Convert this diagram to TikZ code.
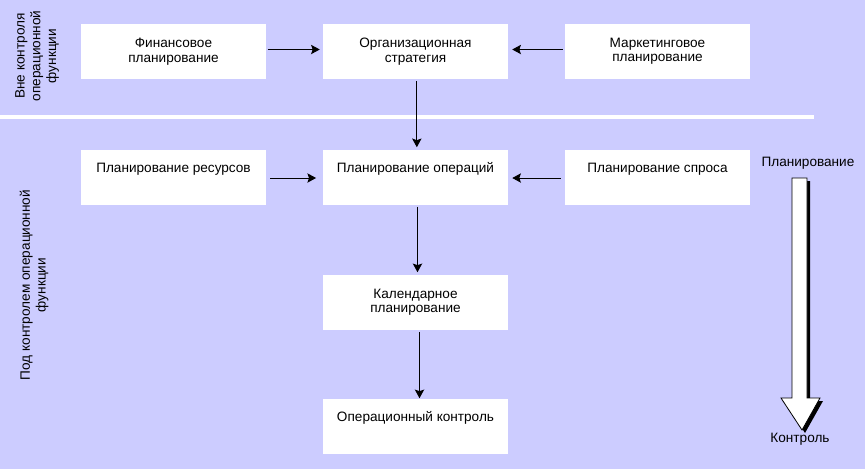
\documentclass[tikz,border=0pt]{standalone}
\usepackage{fontspec}
\setmainfont{Liberation Sans}
\usetikzlibrary{arrows.meta}
\definecolor{bg}{RGB}{204,204,255}
\begin{document}
\begin{tikzpicture}[x=0.75pt,y=-0.75pt,
  box/.style={fill=white, draw=none, minimum width=138.75pt, minimum height=41.25pt,
    inner sep=0pt, align=center, font=\fontsize{10.2}{10.8}\selectfont},
  lbl/.style={inner sep=0pt, align=center, font=\fontsize{10.2}{11.8}\selectfont},
  conn/.style={-{Stealth[length=6.5pt,width=7pt,inset=1.2pt]}, line width=0.75pt}]
\fill[bg] (0,0) rectangle (865,469);
\useasboundingbox (0,0) rectangle (865,469);
\draw[white, line width=3pt] (0,117) -- (814,117);

\node[box] (fin) at (173.5,51.5) {Финансовое\\планирование};
\node[box] (org) at (415.5,51.5) {Организационная\\стратегия};
\node[box] (mar) at (657.5,51.5) {Маркетинговое\\планирование};
\node[box] (res) at (173.5,177) {Планирование ресурсов\\\strut};
\node[box] (ops) at (415.5,177) {Планирование операций\\\strut};
\node[box] (dem) at (657.5,177) {Планирование спроса\\\strut};
\node[box] (cal) at (415.5,302) {Календарное\\планирование};
\node[box] (ctl) at (415.5,426) {Операционный контроль\\\strut};

\draw[conn] ([xshift=1pt,yshift=1.5pt]fin.east) -- ([xshift=-2.25pt,yshift=1.5pt]org.west);
\draw[conn] ([xshift=-1.5pt,yshift=1.5pt]mar.west) -- ([xshift=3pt,yshift=1.5pt]org.east);
\draw[conn] ([xshift=3pt,yshift=-0.75pt]res.east) -- ([xshift=-5pt,yshift=-0.75pt]ops.west);
\draw[conn] ([xshift=-3pt,yshift=-0.75pt]dem.west) -- ([xshift=3pt,yshift=-0.75pt]ops.east);
\draw[conn] ([xshift=1pt,yshift=-1.5pt]org.south) -- ([xshift=1pt,yshift=1.5pt]ops.north);
\draw[conn] ([xshift=1.5pt,yshift=-1.5pt]ops.south) -- ([xshift=1.5pt,yshift=1.5pt]cal.north);
\draw[conn] ([xshift=3pt,yshift=-1.5pt]cal.south) -- ([xshift=3pt]ctl.north);

\node[lbl, rotate=90] (outside) at (37,56) {Вне контроля\\операционной\\функции};
\node[lbl, rotate=90] (inside) at (34,285) {Под контролем операционной\\функции};

\node[lbl] (plan) at (808,163) {Планирование};
\node[lbl] (ctrl) at (800,439) {Контроль};

% big arrow with shadow
\fill[black] (795,181) -- (810,181) -- (810,401) -- (823,401) -- (805,433) -- (784,401) -- (795,401) -- cycle;
\filldraw[fill=white, draw=black, line width=0.6pt] (792,178) -- (807,178) -- (807,398) -- (820,398) -- (802,430) -- (781,398) -- (792,398) -- cycle;
\end{tikzpicture}
\end{document}
